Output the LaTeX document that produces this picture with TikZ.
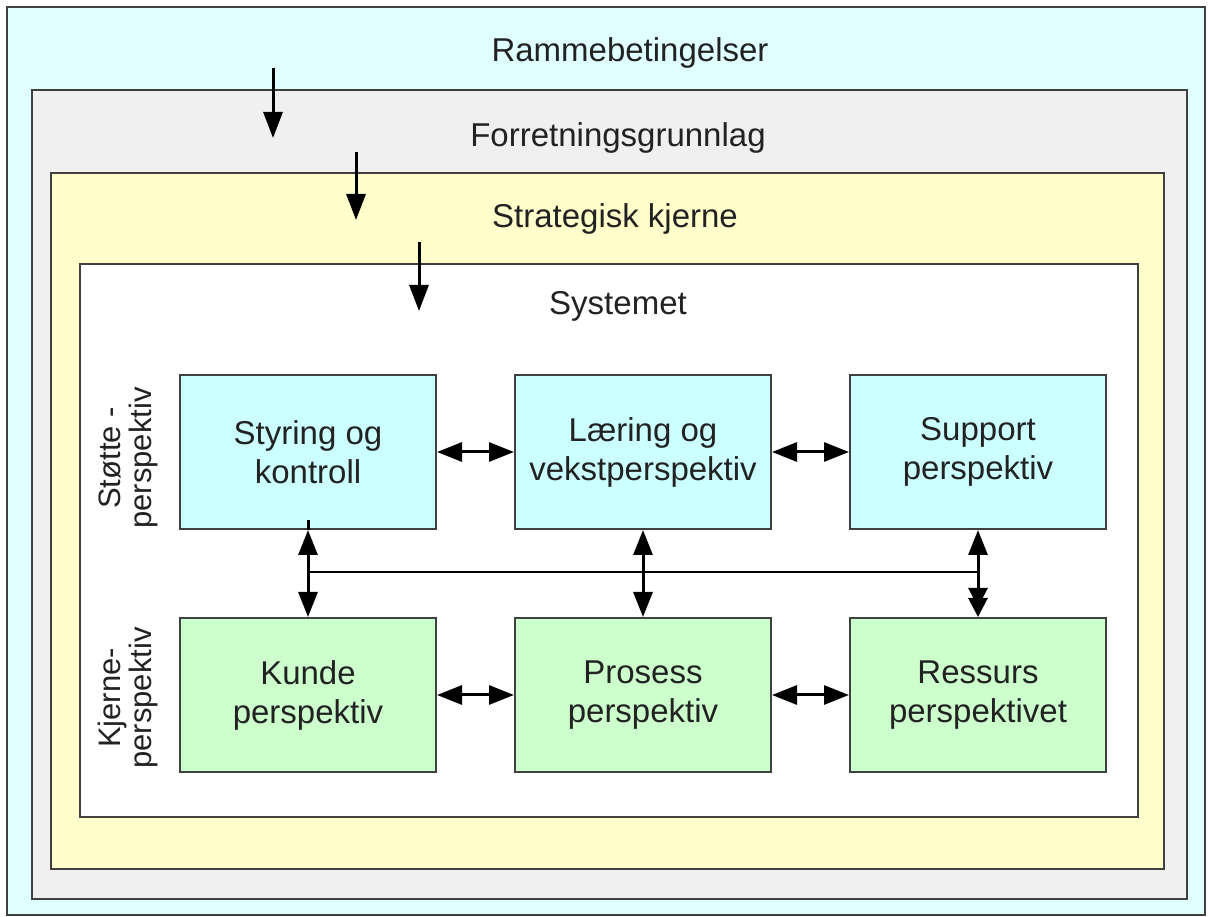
\documentclass[tikz,border=0pt]{standalone}
\usepackage{fontspec}
\setmainfont{Liberation Sans}
\usetikzlibrary{arrows.meta}
\definecolor{rammefill}{HTML}{E0FFFF}
\definecolor{forrfill}{HTML}{F0F0F0}
\definecolor{stratfill}{HTML}{FFFFCC}
\definecolor{stottefill}{HTML}{CCFFFF}
\definecolor{kjernefill}{HTML}{CCFFCC}
\definecolor{kant}{HTML}{404040}
\definecolor{tekst}{HTML}{222222}
\tikzset{
	felt/.style = {draw=kant, line width=2pt},% ytre rammer
	tittel/.style = {anchor=base, text=tekst,
		font=\fontsize{33}{39}\selectfont},
	boks/.style = {rectangle, draw=kant, line width=2pt, align=center,
		inner sep=0pt, minimum width=256pt, minimum height=154pt,
		text=tekst, font=\fontsize{33}{39}\selectfont},
	boks_s/.style = {boks, fill=stottefill},% stotteperspektiv
	boks_k/.style = {boks, fill=kjernefill},% kjerneperspektiv
	sidetekst/.style = {rotate=90, align=center, text=tekst,
		font=\fontsize{31}{31}\selectfont},
	pil/.style = {-{Triangle[length=26pt, width=19pt]}, line width=3pt},
	dpil/.style = {{Triangle[length=25pt, width=19pt]}-{Triangle[length=25pt, width=19pt]},
		line width=3pt}
}
\begin{document}
\begin{tikzpicture}[x=1pt, y=1pt]
	\useasboundingbox (0,0) rectangle (1208,917);
	% rammene
	\draw[felt, fill=rammefill] (7,910) rectangle (1205,2);
	\draw[felt, fill=forrfill] (32,827) rectangle (1187,18);
	\draw[felt, fill=stratfill] (51,744) rectangle (1164,48);
	\draw[felt, fill=white] (80,653) rectangle (1138,100);
	\node[tittel] (ramme) at (630,855) {Rammebetingelser};
	\node[tittel] (forr) at (618,770) {Forretningsgrunnlag};
	\node[tittel] (strat) at (615,689) {Strategisk kjerne};
	\node[tittel] (sys) at (618,602) {Systemet};
	% piler nedover
	\coordinate (p1a) at (273,849); \coordinate (p1b) at (273,779);
	\coordinate (p2a) at (356,765); \coordinate (p2b) at (356,697);
	\coordinate (p3a) at (419,675); \coordinate (p3b) at (419,606);
	\draw[pil] (p1a) -- (p1b);
	\draw[pil] (p2a) -- (p2b);
	\draw[pil] (p3a) -- (p3b);
	% perspektivene
	\node[sidetekst] (stotte) at (128,459) {Støtte -\\perspektiv};
	\node[sidetekst] (kjerne) at (128,219) {Kjerne-\\perspektiv};
	\node[boks_s] (sty) at (308,465) {Styring og\\kontroll};
	\node[boks_s] (lae) at (643,465) {Læring og\\vekstperspektiv};
	\node[boks_s] (sup) at (978,465) {Support\\perspektiv};
	\node[boks_k] (kun) at (308,222) {Kunde\\perspektiv};
	\node[boks_k] (pro) at (643,222) {Prosess\\perspektiv};
	\node[boks_k] (res) at (978,222) {Ressurs\\perspektivet};
	% forbindelser
	\draw[dpil] (sty.east) -- (lae.west);
	\draw[dpil] (lae.east) -- (sup.west);
	\draw[dpil] (kun.east) -- (pro.west);
	\draw[dpil] (pro.east) -- (res.west);
	\draw[line width=3pt] (sty.south) -- ++(0,10);
	\draw[dpil] (sty.south) -- (kun.north);
	\draw[dpil] (lae.south) -- (pro.north);
	\draw[line width=3pt, {Triangle[length=25pt, width=19pt]}-{Triangle[length=19pt, width=19pt, sep=-9pt]Triangle[length=19pt, width=19pt]}]
		(sup.south) -- (res.north);
	\coordinate (busv) at (sty.south |- 0,345);
	\coordinate (bush) at (sup.south |- 0,345);
	\draw[line width=2pt] (busv) -- (bush);
\end{tikzpicture}
\end{document}
